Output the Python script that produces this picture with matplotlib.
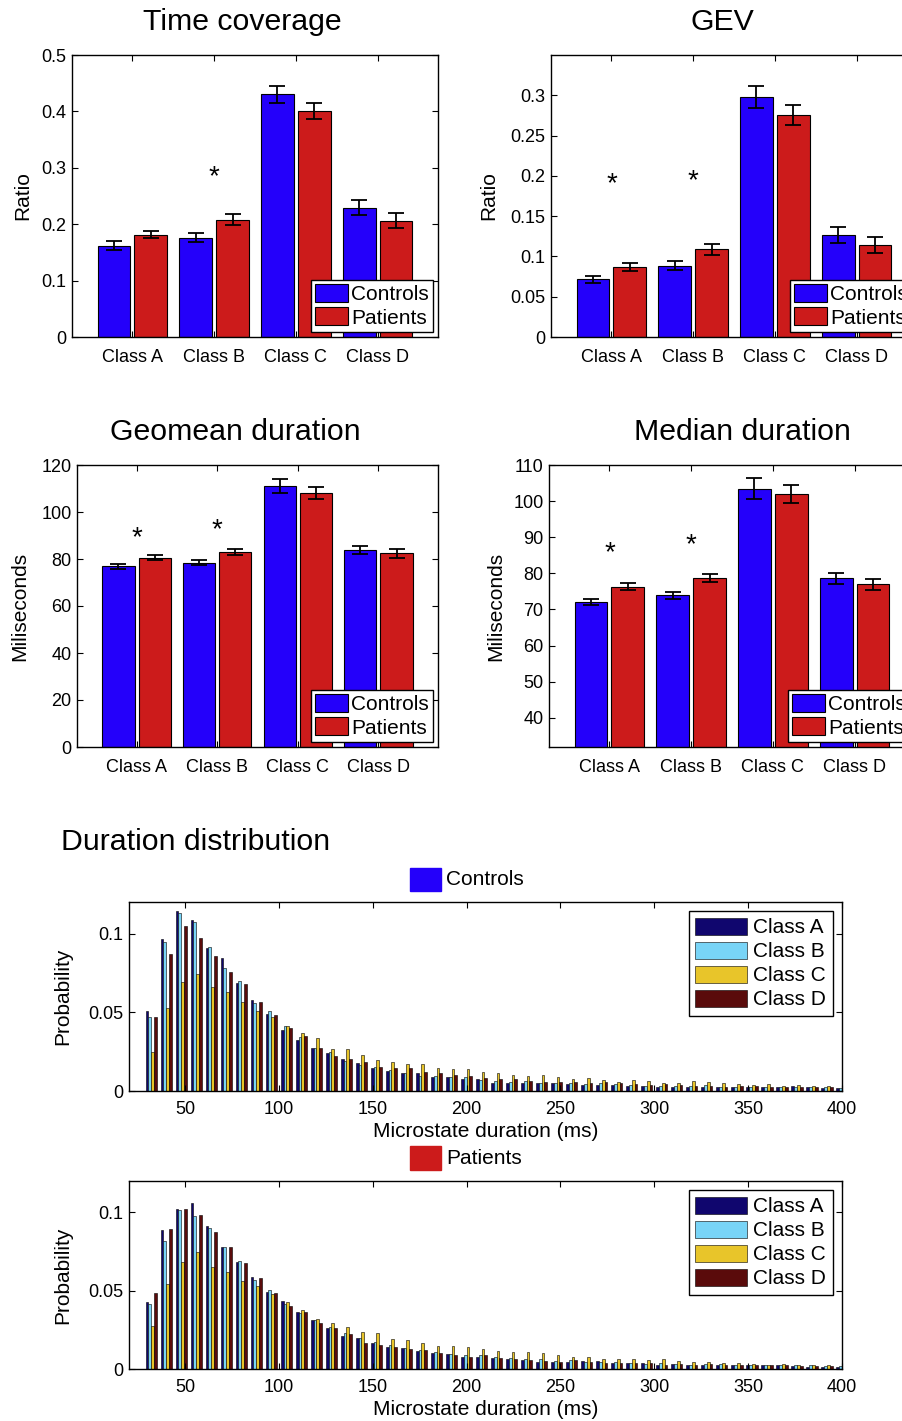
import numpy as np
import matplotlib
matplotlib.use("Agg")
import matplotlib.pyplot as plt
from matplotlib.patches import Rectangle
from matplotlib.ticker import FuncFormatter
from matplotlib import transforms

plt.rcParams['font.family'] = ['Liberation Sans', 'DejaVu Sans']

# ---------------- data ----------------
classes = ['Class A', 'Class B', 'Class C', 'Class D']
groups = ['Controls', 'Patients']

tc_ctrl = [0.1615, 0.1763, 0.430, 0.2296]
tc_ctrl_err = [0.008, 0.008, 0.015, 0.0127]
tc_pat = [0.1817, 0.2083, 0.401, 0.206]
tc_pat_err = [0.0065, 0.0098, 0.0145, 0.013]
tc_stars = [(2, 0.299)]

gev_ctrl = [0.0714, 0.0884, 0.298, 0.1266]
gev_ctrl_err = [0.0048, 0.0054, 0.0133, 0.0098]
gev_pat = [0.0871, 0.1087, 0.276, 0.1141]
gev_pat_err = [0.0046, 0.0066, 0.0124, 0.010]
gev_stars = [(1, 0.201), (2, 0.204)]

geo_ctrl = [76.9, 78.4, 111.0, 83.8]
geo_ctrl_err = [1.0, 1.15, 2.85, 1.7]
geo_pat = [80.6, 83.1, 108.2, 82.4]
geo_pat_err = [1.07, 1.2, 2.6, 1.8]
geo_stars = [(1, 92.5), (2, 96.1)]

med_ctrl = [72.0, 73.9, 103.4, 78.6]
med_ctrl_err = [0.9, 1.0, 2.9, 1.5]
med_pat = [76.25, 78.65, 102.0, 77.0]
med_pat_err = [1.0, 1.15, 2.4, 1.5]
med_stars = [(1, 88.1), (2, 90.3)]

# microstate duration bins (ms)
durations = np.array(list(range(32, 401, 8)))

ctrl_A = [0.0505, 0.0966, 0.1140, 0.1085, 0.0909, 0.0845, 0.0686, 0.0580, 0.0490, 0.0389,
          0.0325, 0.0270, 0.0240, 0.0202, 0.0176, 0.0143, 0.0129, 0.0112, 0.0112, 0.0091,
          0.0091, 0.0074, 0.0076, 0.0049, 0.0049, 0.0049, 0.0049, 0.0049, 0.0045, 0.0040,
          0.0038, 0.0040, 0.0034, 0.0034, 0.0028, 0.0028, 0.0023, 0.0028, 0.0028, 0.0028,
          0.0028, 0.0023, 0.0023, 0.0032, 0.0023, 0.0019, 0.0019]
ctrl_B = [0.0470, 0.0945, 0.1128, 0.1070, 0.0917, 0.0780, 0.0699, 0.0559, 0.0505, 0.0412,
          0.0346, 0.0270, 0.0250, 0.0193, 0.0164, 0.0150, 0.0134, 0.0117, 0.0095, 0.0095,
          0.0087, 0.0087, 0.0070, 0.0066, 0.0059, 0.0064, 0.0049, 0.0049, 0.0049, 0.0045,
          0.0049, 0.0045, 0.0036, 0.0032, 0.0032, 0.0032, 0.0034, 0.0038, 0.0028, 0.0028,
          0.0028, 0.0028, 0.0023, 0.0023, 0.0023, 0.0028, 0.0019]
ctrl_C = [0.0250, 0.0527, 0.0690, 0.0743, 0.0658, 0.0629, 0.0563, 0.0505, 0.0470, 0.0412,
          0.0367, 0.0336, 0.0266, 0.0266, 0.0227, 0.0200, 0.0187, 0.0170, 0.0170, 0.0144,
          0.0142, 0.0138, 0.0123, 0.0112, 0.0100, 0.0095, 0.0102, 0.0091, 0.0078, 0.0081,
          0.0070, 0.0059, 0.0068, 0.0061, 0.0053, 0.0053, 0.0061, 0.0055, 0.0049, 0.0042,
          0.0038, 0.0042, 0.0034, 0.0036, 0.0032, 0.0032, 0.0028]
ctrl_D = [0.0470, 0.0870, 0.1047, 0.0970, 0.0860, 0.0756, 0.0680, 0.0565, 0.0480, 0.0400,
          0.0352, 0.0272, 0.0225, 0.0202, 0.0183, 0.0150, 0.0144, 0.0148, 0.0123, 0.0117,
          0.0102, 0.0095, 0.0085, 0.0076, 0.0074, 0.0061, 0.0055, 0.0055, 0.0055, 0.0053,
          0.0057, 0.0049, 0.0042, 0.0036, 0.0042, 0.0036, 0.0032, 0.0032, 0.0028, 0.0032,
          0.0032, 0.0028, 0.0028, 0.0023, 0.0023, 0.0023, 0.0023]

pat_A = [0.0425, 0.0885, 0.1021, 0.1062, 0.0913, 0.0777, 0.0684, 0.0588, 0.0489, 0.0435,
         0.0363, 0.0312, 0.0263, 0.0212, 0.0195, 0.0163, 0.0138, 0.0131, 0.0117, 0.0104,
         0.0093, 0.0078, 0.0078, 0.0072, 0.0061, 0.0057, 0.0042, 0.0047, 0.0047, 0.0053,
         0.0051, 0.0036, 0.0036, 0.0036, 0.0028, 0.0032, 0.0023, 0.0025, 0.0028, 0.0025,
         0.0023, 0.0023, 0.0023, 0.0019, 0.0015, 0.0015, 0.0011]
pat_B = [0.0418, 0.0817, 0.1017, 0.0977, 0.0902, 0.0779, 0.0690, 0.0567, 0.0503, 0.0414,
         0.0355, 0.0312, 0.0265, 0.0231, 0.0195, 0.0170, 0.0151, 0.0131, 0.0121, 0.0110,
         0.0093, 0.0087, 0.0089, 0.0078, 0.0072, 0.0064, 0.0064, 0.0053, 0.0057, 0.0042,
         0.0042, 0.0047, 0.0036, 0.0032, 0.0036, 0.0032, 0.0028, 0.0032, 0.0032, 0.0028,
         0.0028, 0.0023, 0.0025, 0.0023, 0.0023, 0.0019, 0.0019]
pat_C = [0.0276, 0.0540, 0.0684, 0.0747, 0.0652, 0.0620, 0.0563, 0.0529, 0.0476, 0.0425,
         0.0376, 0.0317, 0.0295, 0.0269, 0.0234, 0.0227, 0.0189, 0.0184, 0.0163, 0.0146,
         0.0146, 0.0138, 0.0129, 0.0114, 0.0108, 0.0108, 0.0100, 0.0089, 0.0078, 0.0074,
         0.0066, 0.0066, 0.0061, 0.0057, 0.0061, 0.0049, 0.0047, 0.0045, 0.0040, 0.0040,
         0.0032, 0.0028, 0.0030, 0.0028, 0.0025, 0.0025, 0.0019]
pat_D = [0.0482, 0.0896, 0.1024, 0.0985, 0.0875, 0.0779, 0.0677, 0.0582, 0.0482, 0.0401,
         0.0365, 0.0291, 0.0263, 0.0223, 0.0164, 0.0153, 0.0142, 0.0125, 0.0121, 0.0104,
         0.0087, 0.0078, 0.0089, 0.0072, 0.0061, 0.0057, 0.0053, 0.0047, 0.0057, 0.0042,
         0.0040, 0.0036, 0.0036, 0.0036, 0.0028, 0.0030, 0.0028, 0.0030, 0.0028, 0.0023,
         0.0023, 0.0023, 0.0023, 0.0019, 0.0019, 0.0019, 0.0015]

BLUE = '#2400fa'
RED = '#cc1b1b'
CLASS_COLORS = ['#10066e', '#78d4f7', '#e8c52a', '#5a0b0b']

W, H = 902, 1421
fig = plt.figure(figsize=(W / 100, H / 100), dpi=100)
fig.patch.set_facecolor('white')

fmt_g = FuncFormatter(lambda v, p: f'{v:g}')


def px_axes(x0, y0, x1, y1):
    return fig.add_axes([x0 / W, 1 - y1 / H, (x1 - x0) / W, (y1 - y0) / H])


def style_axes(ax):
    ax.tick_params(direction='in', top=True, right=True, length=4, width=0.8,
                   labelsize=13, pad=4)
    for s in ax.spines.values():
        s.set_linewidth(1.0)
    ax.yaxis.set_major_formatter(fmt_g)


def bar_panel(ax, ctrl, ctrl_err, pat, pat_err, stars, ylim, yticks, ylabel, ylabel_x):
    x = np.arange(1, 5)
    ax.bar(x - 0.225, ctrl, 0.4, color=BLUE, edgecolor='k', linewidth=0.8, label='Controls')
    ax.bar(x + 0.225, pat, 0.4, color=RED, edgecolor='k', linewidth=0.8, label='Patients')
    ax.errorbar(x - 0.225, ctrl, yerr=ctrl_err, fmt='none', ecolor='k',
                elinewidth=1.3, capsize=6, capthick=1.3)
    ax.errorbar(x + 0.225, pat, yerr=pat_err, fmt='none', ecolor='k',
                elinewidth=1.3, capsize=6, capthick=1.3)
    # '*' glyph sits high above its baseline; shift so its centre hits sy
    star_tr = transforms.offset_copy(ax.transData, fig=fig, y=-11.4, units='points')
    for sx, sy in stars:
        ax.text(sx, sy, '*', ha='center', va='baseline', fontsize=20, transform=star_tr)
    ax.set_xlim(0.26, 4.74)
    ax.set_ylim(*ylim)
    ax.set_yticks(yticks)
    ax.set_xticks(x)
    ax.set_xticklabels(classes)
    style_axes(ax)
    ax.tick_params(axis='x', pad=9)
    ax.set_ylabel(ylabel, fontsize=15)
    ax.yaxis.set_label_coords(ylabel_x, 0.5)
    ax.legend(loc='lower right', fontsize=15, frameon=True, fancybox=False,
              edgecolor='k', framealpha=1, borderaxespad=0.25, borderpad=0.2,
              handlelength=1.55, handleheight=0.95, handletextpad=0.15,
              labelspacing=0.15).get_frame().set_linewidth(1.0)


# Time coverage
ax1 = px_axes(72, 55, 438, 337)
bar_panel(ax1, tc_ctrl, tc_ctrl_err, tc_pat, tc_pat_err, tc_stars,
          (0, 0.5), [0, 0.1, 0.2, 0.3, 0.4, 0.5], 'Ratio', -0.109)

# GEV
ax2 = px_axes(551, 55, 917, 337)
bar_panel(ax2, gev_ctrl, gev_ctrl_err, gev_pat, gev_pat_err, gev_stars,
          (0, 0.35), [0, 0.05, 0.1, 0.15, 0.2, 0.25, 0.3], 'Ratio', -0.145)

# Geomean duration
ax3 = px_axes(77, 465, 438, 747)
bar_panel(ax3, geo_ctrl, geo_ctrl_err, geo_pat, geo_pat_err, geo_stars,
          (0, 120), [0, 20, 40, 60, 80, 100, 120], 'Miliseconds', -0.133)

# Median duration
ax4 = px_axes(549, 465, 915, 747)
bar_panel(ax4, med_ctrl, med_ctrl_err, med_pat, med_pat_err, med_stars,
          (31.9, 110), [40, 50, 60, 70, 80, 90, 100, 110], 'Miliseconds', -0.12)

TITLE_SIZE = 21.8
fig.text(242 / W, 1 - 22 / H, 'Time coverage', ha='center', va='center', fontsize=TITLE_SIZE)
fig.text(722 / W, 1 - 22 / H, 'GEV', ha='center', va='center', fontsize=TITLE_SIZE)
fig.text(235 / W, 1 - 432 / H, 'Geomean duration', ha='center', va='center', fontsize=TITLE_SIZE)
fig.text(742 / W, 1 - 432 / H, 'Median duration', ha='center', va='center', fontsize=TITLE_SIZE)
fig.text(61 / W, 1 - 842 / H, 'Duration distribution', ha='left', va='center', fontsize=TITLE_SIZE)

# Duration distribution histograms
offsets = [-2.25, -0.75, 0.75, 2.25]


def hist_panel(ax, series):
    for vals, col, off, lab in zip(series, CLASS_COLORS, offsets, classes):
        ax.bar(durations + off, vals, 1.5, color=col, edgecolor='k', linewidth=0.4, label=lab)
    ax.set_xlim(20.2, 400)
    ax.set_ylim(0, 0.12)
    ax.set_xticks([50, 100, 150, 200, 250, 300, 350, 400])
    ax.set_yticks([0, 0.05, 0.1])
    style_axes(ax)
    ax.tick_params(axis='x', pad=7)
    ax.set_xlabel('Microstate duration (ms)', fontsize=15)
    ax.xaxis.set_label_coords(0.5, -0.165)
    ax.set_ylabel('Probability', fontsize=15)
    ax.yaxis.set_label_coords(-0.08, 0.5)
    ax.legend(loc='upper right', fontsize=15, frameon=True, fancybox=False,
              edgecolor='k', framealpha=1, borderaxespad=0.45, borderpad=0.3,
              handlelength=2.5, handleheight=0.9, handletextpad=0.3,
              labelspacing=0.2).get_frame().set_linewidth(1.0)


ax5 = px_axes(129, 902, 842, 1091)
hist_panel(ax5, [ctrl_A, ctrl_B, ctrl_C, ctrl_D])
ax6 = px_axes(129, 1181, 842, 1369)
hist_panel(ax6, [pat_A, pat_B, pat_C, pat_D])

# group markers above each histogram
for (y0, y1), col, lab in [((868, 891), BLUE, 'Controls'), ((1146, 1170), RED, 'Patients')]:
    fig.add_artist(Rectangle((410 / W, 1 - y1 / H), 31 / W, (y1 - y0) / H,
                             transform=fig.transFigure, color=col))
    fig.text(446 / W, 1 - (y0 + y1) / 2 / H, lab, ha='left', va='center', fontsize=15)

fig.savefig('out.png', dpi=100)
